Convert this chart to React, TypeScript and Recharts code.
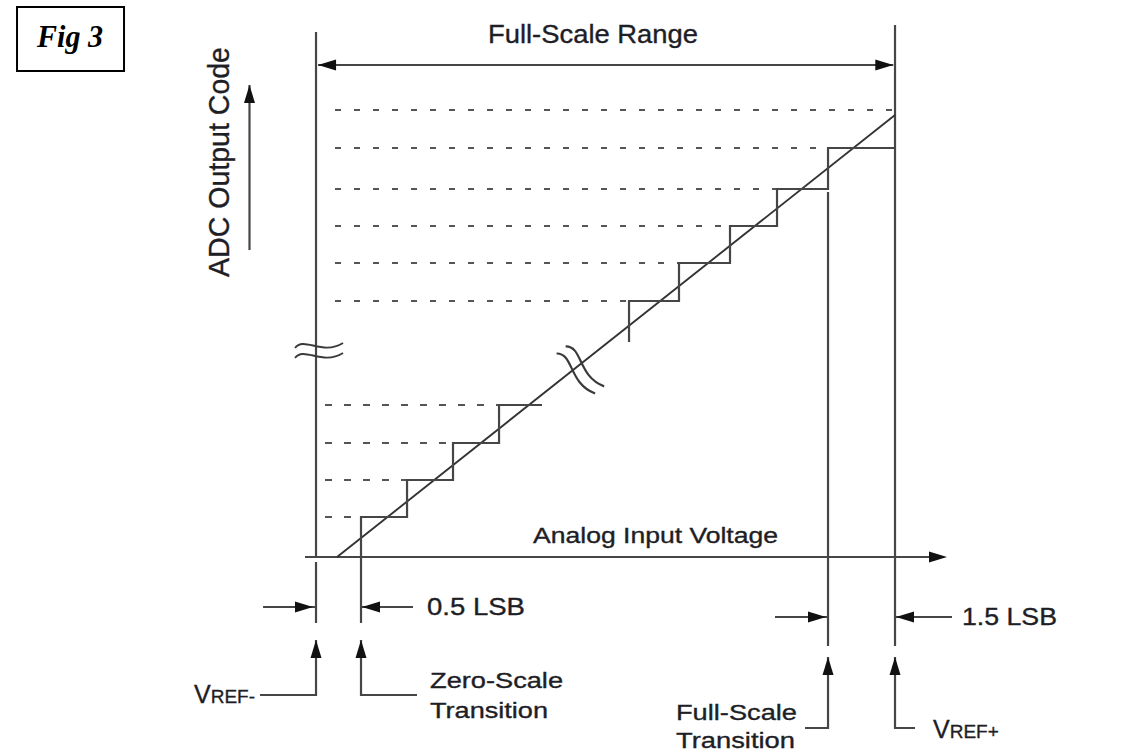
import React from 'react'
import {
  ComposedChart, XAxis, YAxis, Line, Scatter, ReferenceLine, ReferenceArea,
} from 'recharts'

// Diagram space: x = % of full-scale range (VREF- = 0, VREF+ = 100),
// y = % of the top output code (0 = analog input axis)

// lower staircase (codes just above zero scale)
const lowerTransitions = [7.77, 15.72, 23.66, 31.61]
const lowerCodes = [8.95, 17.23, 25.5, 34.0]
const lowerEnd = 39.03

// upper staircase (codes near full scale, after the break)
const upperTransitions = [54.06, 62.69, 71.5, 79.62, 88.43]
const upperCodes = [57.27, 65.77, 74.05, 82.33, 91.5]
const upperBase = 48.1
const upperEnd = 100

const topCode = 100
const lowerDashStart = 1.55
const upperDashStart = 3.28

// ideal transfer line
const idealLine = [{ x: 3.63, y: 0 }, { x: 100, y: 98.88 }]

// solid frame lines: reference verticals, axis, dimension arrows
const frameLines = [
  { x1: 0, y1: 117.45, x2: 0, y2: 0 },            // VREF- reference
  { x1: 0, y1: -1.12, x2: 0, y2: -14.77 },
  { x1: 100, y1: 119.02, x2: 100, y2: -19.91 },   // VREF+ reference
  { x1: 7.77, y1: 0, x2: 7.77, y2: -14.77 },      // zero-scale transition
  { x1: 88.43, y1: 81.66, x2: 88.43, y2: -19.91 }, // full-scale transition
  { x1: -1.9, y1: 0, x2: 106.04, y2: 0 },         // analog input axis
  { x1: 0.35, y1: 110.07, x2: 99.7, y2: 110.07 }, // full-scale range
  { x1: -11.49, y1: 68.68, x2: -11.49, y2: 105.59 }, // output code arrow
  { x1: -9.15, y1: -11.19, x2: 0, y2: -11.19 },   // 0.5 LSB dimension
  { x1: 16.75, y1: -11.19, x2: 7.94, y2: -11.19 },
  { x1: 79.27, y1: -13.42, x2: 88.43, y2: -13.42 }, // 1.5 LSB dimension
  { x1: 109.84, y1: -13.42, x2: 100, y2: -13.42 },
]

// leader lines for the labels under the axis
const callouts = [
  [{ x: -9.67, y: -30.87 }, { x: 0, y: -30.87 }, { x: 0, y: -18.57 }],
  [{ x: 17.44, y: -30.87 }, { x: 7.77, y: -30.87 }, { x: 7.77, y: -18.57 }],
  [{ x: 84.46, y: -38.26 }, { x: 88.43, y: -38.26 }, { x: 88.43, y: -22.37 }],
  [{ x: 103.45, y: -38.26 }, { x: 100, y: -38.26 }, { x: 100, y: -22.37 }],
]

const arrowTips = [
  { x: 108.98, y: 0, dir: 'right' },
  { x: 0.35, y: 110.07, dir: 'left' },
  { x: 99.7, y: 110.07, dir: 'right' },
  { x: -11.49, y: 105.59, dir: 'up' },
  { x: -0.52, y: -11.19, dir: 'right' },
  { x: 7.94, y: -11.19, dir: 'left' },
  { x: 88.08, y: -13.42, dir: 'right' },
  { x: 100.17, y: -13.42, dir: 'left' },
  { x: 0, y: -18.57, dir: 'up' },
  { x: 7.77, y: -18.57, dir: 'up' },
  { x: 88.43, y: -22.37, dir: 'up' },
  { x: 100, y: -22.37, dir: 'up' },
]

const breakMarks = [
  { x: 0, y: 45.64, on: 'reference' },
  { x: 44.9, y: 42.06, on: 'ideal' },
]

const labels = [
  { key: 'range', x: 47.84, y: 114.99, text: 'Full-Scale Range' },
  { key: 'input', x: 58.64, y: 3.13, text: 'Analog Input Voltage' },
  { key: 'output', x: -15.03, y: 88.37, text: 'ADC Output Code' },
  { key: 'half', x: 19.17, y: -12.98, text: '0.5 LSB' },
  { key: 'oneHalf', x: 111.57, y: -15.21, text: '1.5 LSB' },
  { key: 'zs1', x: 19.69, y: -29.31, text: 'Zero-Scale' },
  { key: 'zs2', x: 19.69, y: -36.02, text: 'Transition' },
  { key: 'fs1', x: 83.07, y: -36.47, text: 'Full-Scale' },
  { key: 'fs2', x: 82.73, y: -42.73, text: 'Transition' },
  { key: 'fig', x: -42.49, y: 114.09, text: 'Fig 3' },
]

const refLabels = [
  { key: 'vrefMinus', x: -10.54, y: -32.66, sub: 'REF-' },
  { key: 'vrefPlus', x: 106.56, y: -40.49, sub: 'REF+' },
]

const figBox = { x1: -51.64, x2: -33.16, y1: 108.72, y2: 123.04 }

const SANS = '"Liberation Sans", Arial, sans-serif'
const INK = '#1e1e26'
const LINE = '#464646'

const labelStyle: Record<string, any> = {
  range: { size: 25, anchor: 'middle', len: 210 },
  input: { size: 22, anchor: 'middle', len: 245 },
  output: { size: 29, anchor: 'middle', len: 230, rotate: -90 },
  half: { size: 24, anchor: 'start', len: 98 },
  oneHalf: { size: 24, anchor: 'start', len: 95 },
  zs1: { size: 22, anchor: 'start', len: 133 },
  zs2: { size: 22, anchor: 'start', len: 118 },
  fs1: { size: 22, anchor: 'end', len: 121 },
  fs2: { size: 22, anchor: 'end', len: 119 },
  fig: { size: 32, anchor: 'middle', len: 66, serif: true },
}

function buildSteps(transitions: number[], codes: number[], base: number, end: number) {
  const pts = [{ x: transitions[0], y: base }]
  transitions.forEach((t, i) => {
    pts.push({ x: t, y: codes[i] })
    pts.push({ x: transitions[i + 1] ?? end, y: codes[i] })
  })
  return pts
}

const lowerSteps = buildSteps(lowerTransitions, lowerCodes, 0, lowerEnd)
const upperSteps = buildSteps(upperTransitions, upperCodes, upperBase, upperEnd)

const dashLines = [
  ...lowerCodes.map((c, i) => ({ x1: lowerDashStart, x2: lowerTransitions[i], y: c, lower: true })),
  ...upperCodes.map((c, i) => ({ x1: upperDashStart, x2: upperTransitions[i], y: c, lower: false })),
  { x1: upperDashStart, x2: upperEnd, y: topCode, lower: false },
]

function ArrowHead(props: any) {
  const { cx, cy, payload } = props
  const L = 18
  const W = 5.5
  let pts = ''
  if (payload.dir === 'right') pts = `${cx},${cy} ${cx - L},${cy - W} ${cx - L},${cy + W}`
  else if (payload.dir === 'left') pts = `${cx},${cy} ${cx + L},${cy - W} ${cx + L},${cy + W}`
  else pts = `${cx},${cy} ${cx - W},${cy + L} ${cx + W},${cy + L}`
  return <polygon points={pts} fill="#111" />
}

function BreakMark(props: any) {
  const { cx, cy, payload } = props
  const tf = payload.on === 'ideal'
    ? `translate(${cx},${cy}) rotate(52) scale(1.15)`
    : `translate(${cx},${cy})`
  const wave = 'M -21 -1 C -12 -13, 6 7, 27 -6'
  return (
    <g transform={tf} fill="none" stroke="#3a3a3a" strokeWidth={1.9}>
      <path d={wave} transform="translate(0,-4)" />
      <path d={wave} transform="translate(0,6)" />
    </g>
  )
}

function LabelText(props: any) {
  const { cx, cy, payload } = props
  const s = labelStyle[payload.key]
  return (
    <text
      x={cx}
      y={cy}
      textAnchor={s.anchor}
      fontSize={s.size}
      fontFamily={s.serif ? '"Liberation Serif", "Times New Roman", serif' : SANS}
      fontWeight={s.serif ? 'bold' : 'normal'}
      fontStyle={s.serif ? 'italic' : 'normal'}
      fill={s.serif ? '#000' : INK}
      stroke={s.serif ? 'none' : INK}
      strokeWidth={0.35}
      textLength={s.len}
      lengthAdjust="spacingAndGlyphs"
      transform={s.rotate ? `rotate(${s.rotate} ${cx} ${cy})` : undefined}
    >
      {payload.text}
    </text>
  )
}

function RefText(props: any) {
  const { cx, cy, payload } = props
  const anchor = payload.key === 'vrefMinus' ? 'end' : 'start'
  return (
    <text x={cx} y={cy} textAnchor={anchor} fontFamily={SANS} fill={INK} stroke={INK} strokeWidth={0.35}>
      <tspan fontSize={25}>V</tspan>
      <tspan fontSize={19}>{payload.sub}</tspan>
    </text>
  )
}

export default function App() {
  return (
    <div style={{ position: 'absolute', left: 0, top: 0, background: '#fff' }}>
      <ComposedChart width={1136} height={753} margin={{ top: 0, right: 0, bottom: 0, left: 0 }}>
        <XAxis type="number" dataKey="x" domain={[-54.58, 141.62]} allowDataOverflow hide />
        <YAxis type="number" dataKey="y" domain={[-43.85, 124.61]} allowDataOverflow hide />

        <ReferenceArea
          x1={figBox.x1} x2={figBox.x2} y1={figBox.y1} y2={figBox.y2}
          fill="none" fillOpacity={0} stroke="#000" strokeWidth={2} ifOverflow="visible"
        />

        {dashLines.map((d, i) => (
          <ReferenceLine
            key={`dash-${i}`}
            segment={[{ x: d.x1, y: d.y }, { x: d.x2, y: d.y }]}
            stroke="#555"
            strokeWidth={2.2}
            strokeDasharray={d.lower ? '7 12' : '6 13'}
            ifOverflow="visible"
          />
        ))}

        {frameLines.map((s, i) => (
          <ReferenceLine
            key={`frame-${i}`}
            segment={[{ x: s.x1, y: s.y1 }, { x: s.x2, y: s.y2 }]}
            stroke={LINE}
            strokeWidth={2.2}
            ifOverflow="visible"
          />
        ))}

        <Line data={idealLine} dataKey="y" type="linear" stroke="#333" strokeWidth={1.9}
          dot={false} activeDot={false} isAnimationActive={false} />
        <Line data={lowerSteps} dataKey="y" type="linear" stroke={LINE} strokeWidth={2.2}
          dot={false} activeDot={false} isAnimationActive={false} />
        <Line data={upperSteps} dataKey="y" type="linear" stroke={LINE} strokeWidth={2.2}
          dot={false} activeDot={false} isAnimationActive={false} />

        {callouts.map((c, i) => (
          <Line key={`callout-${i}`} data={c} dataKey="y" type="linear" stroke={LINE}
            strokeWidth={2.2} dot={false} activeDot={false} isAnimationActive={false} />
        ))}

        <Scatter data={breakMarks} dataKey="y" shape={BreakMark} isAnimationActive={false} />
        <Scatter data={arrowTips} dataKey="y" shape={ArrowHead} isAnimationActive={false} />
        <Scatter data={labels} dataKey="y" shape={LabelText} isAnimationActive={false} />
        <Scatter data={refLabels} dataKey="y" shape={RefText} isAnimationActive={false} />
      </ComposedChart>
    </div>
  )
}
